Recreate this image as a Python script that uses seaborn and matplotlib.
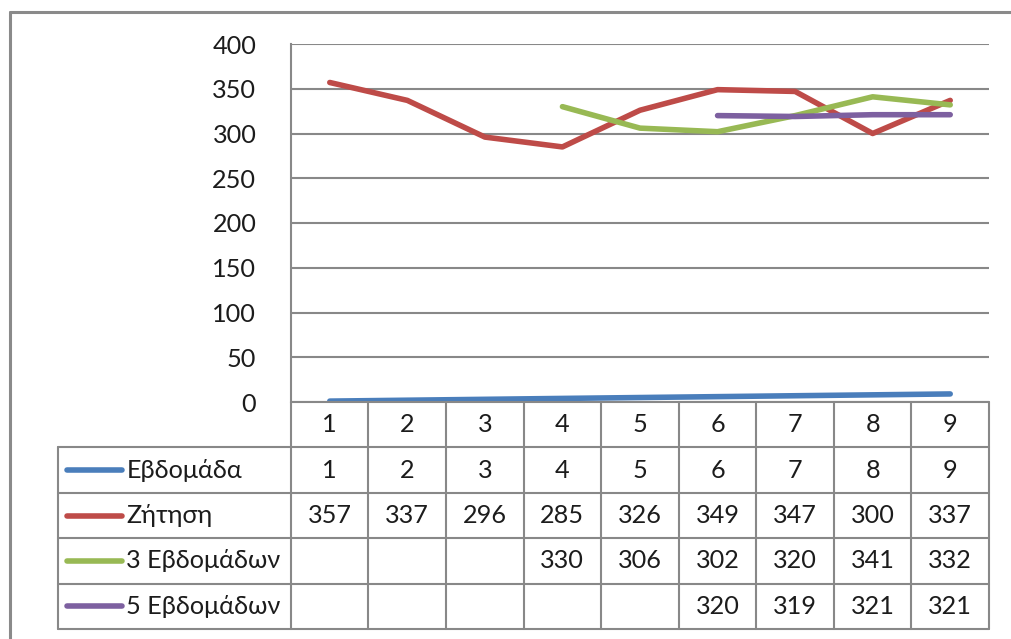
import numpy as np
import pandas as pd
import matplotlib
matplotlib.use("Agg")
import matplotlib.pyplot as plt
import seaborn as sns

# Weekly demand and moving averages
weeks = [1, 2, 3, 4, 5, 6, 7, 8, 9]
week_values = [1, 2, 3, 4, 5, 6, 7, 8, 9]
demand = [357, 337, 296, 285, 326, 349, 347, 300, 337]
ma3 = [None, None, None, 330, 306, 302, 320, 341, 332]
ma5 = [None, None, None, None, None, 320, 319, 321, 321]

series_names = ["Εβδομάδα", "Ζήτηση", "3 Εβδομάδων", "5 Εβδομάδων"]
series_values = [week_values, demand, ma3, ma5]
colors = ["#4A7EBB", "#BE4B48", "#98B954", "#7D60A0"]
y_ticks = [0, 50, 100, 150, 200, 250, 300, 350, 400]

sns.set_style("white")
plt.rcParams["font.family"] = ["Lato", "DejaVu Sans"]
text_color = "#1c1c1c"
grid_color = "#888888"
fs = 18.2

rows = []
for name, vals in zip(series_names, series_values):
    for w, v in zip(weeks, vals):
        rows.append({"week": w, "value": np.nan if v is None else v, "series": name})
df = pd.DataFrame(rows)

W, H = 1011, 639
fig = plt.figure(figsize=(W / 100, H / 100), dpi=100)

def fx(px):
    return px / W

def fy(py):
    return 1 - py / H

# outer chart-area frame
fig.add_artist(plt.Line2D([fx(10), fx(10)], [fy(12), 0], color="#8a8a8a", lw=2.2))
fig.add_artist(plt.Line2D([fx(10), 1], [fy(12), fy(12)], color="#8a8a8a", lw=2.2))

# plot area
x0, x1, ytop, ybot = 291, 989, 44, 402
ax = fig.add_axes([fx(x0), fy(ybot), fx(x1) - fx(x0), fy(ytop) - fy(ybot)])
ax.set_xlim(0.5, 9.5)
ax.set_ylim(0, 400)
ax.set_yticks(y_ticks)
ax.set_yticklabels([str(t) for t in y_ticks], fontsize=fs, color=text_color)
ax.tick_params(axis="y", length=0, pad=25)
ax.set_xticks([])
for t in y_ticks:
    ax.axhline(t, color=grid_color, lw=1.5, zorder=0)
for s in ["top", "right", "bottom"]:
    ax.spines[s].set_visible(False)
ax.spines["left"].set_color(grid_color)
ax.spines["left"].set_linewidth(1.5)

d = df.dropna()
sns.lineplot(data=d, x="week", y="value", hue="series", hue_order=series_names,
             palette=colors, lw=4.0, ax=ax, legend=False, solid_capstyle="round",
             estimator=None, sort=True)
ax.set_xlabel("")
ax.set_ylabel("")
ax.set_xlim(0.5, 9.5)
ax.set_ylim(0, 400)

# data table below the plot
tbot = 629
tax = fig.add_axes([fx(58), fy(tbot), fx(x1) - fx(58), fy(ybot) - fy(tbot)])
tax.set_xlim(-2.5, 9.5)
tax.set_ylim(5, 0)
tax.axis("off")
lk = dict(color=grid_color, lw=1.5, clip_on=False)
tax.plot([0.5, 9.5], [0, 0], **lk)
for r in range(1, 6):
    tax.plot([-2.5, 9.5], [r, r], **lk)
tax.plot([-2.5, -2.5], [1, 5], **lk)
for k in range(10):
    tax.plot([0.5 + k, 0.5 + k], [0, 5], **lk)

for i, w in enumerate(weeks):
    tax.text(w, 0.5, str(w), ha="center", va="center", fontsize=fs, color=text_color)

for r, (name, vals, c) in enumerate(zip(series_names, series_values, colors), start=1):
    yc = r + 0.5
    tax.plot([-2.39, -1.675], [yc, yc], color=c, lw=4.0, solid_capstyle="round")
    tax.text(-1.62, yc, name, ha="left", va="center", fontsize=fs, color=text_color)
    for w, v in zip(weeks, vals):
        if v is not None:
            tax.text(w, yc, str(v), ha="center", va="center", fontsize=fs, color=text_color)

fig.savefig("out.png", dpi=100)
